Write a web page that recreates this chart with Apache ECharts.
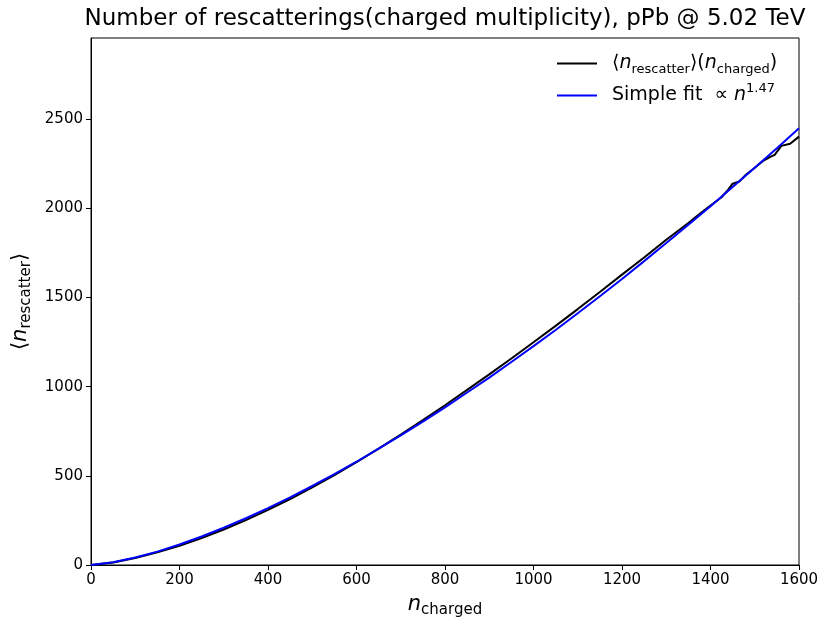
<!DOCTYPE html>
<html>
<head>
<meta charset="utf-8">
<script src="https://cdn.jsdelivr.net/npm/echarts@6/dist/echarts.min.js"></script>
<style>html,body{margin:0;padding:0;background:#fff}#c{width:830px;height:632px}</style>
</head>
<body>
<div id="c"></div>
<script>
// Measured curve <n_rescatter>(n_charged)
const nCharged = [0,50,100,150,200,250,300,350,400,450,500,550,600,650,700,750,800,850,900,950,1000,1050,1100,1150,1200,1250,1300,1350,1375,1400,1425,1440,1450,1465,1480,1500,1520,1535,1545,1560,1580,1600];
const nRescatter = [0,14,39,71,108,151,199,252,309,370,435,504,577,653,731,812,896,982,1069,1158,1249,1341,1435,1531,1628,1724,1824,1918,1968,2015,2062,2105,2138,2150,2188,2228,2268,2288,2300,2350,2362,2402];
// Simple fit curve
const nFit = [0,50,100,150,200,250,300,350,400,450,500,550,600,650,700,750,800,850,900,950,1000,1050,1100,1150,1200,1250,1300,1350,1400,1450,1500,1550,1600];
const fitVals = [0,15,42,75,115,160,209,262,319,379,443,510,579,652,727,804,884,967,1051,1138,1227,1318,1412,1507,1604,1704,1805,1908,2012,2119,2227,2337,2449];
const xTicks = [0,200,400,600,800,1000,1200,1400,1600];
const yTicks = [0,500,1000,1500,2000,2500];

const FONT = 'DejaVu Sans';
const chart = echarts.init(document.getElementById('c'), null, {renderer:'canvas'});
const sub = {fontFamily: FONT, fontSize: 13, lineHeight: 13, verticalAlign: 'bottom', color:'#000'};
const main = {fontFamily: FONT, fontSize: 19, lineHeight: 26, verticalAlign: 'middle', color:'#000'};
const it = Object.assign({}, main, {fontStyle:'italic'});
chart.setOption({
  animation: false,
  backgroundColor: '#fff',
  title: {
    text: 'Number of rescatterings(charged multiplicity), pPb @ 5.02 TeV',
    left: 445, top: 8, textAlign: 'center', padding: 0,
    textStyle: {fontFamily: FONT, fontSize: 23, fontWeight: 'normal', color: '#000'}
  },
  grid: {left: 91, right: 31, top: 38, bottom: 67, show: true, borderColor: '#000', borderWidth: 1, backgroundColor: 'transparent'},
  legend: {
    orient: 'vertical', left: 557, top: 54, itemGap: 6, padding: 0,
    itemWidth: 40, itemHeight: 2, icon: 'rect',
    data: ['black', 'fit'],
    formatter: function(name){
      if (name === 'black') return '{p|}{m|⟨}{i|n}{s|rescatter}{m|⟩(}{i|n}{s|charged}{m|)}';
      return '{p|}{m|Simple fit  ∝ }{i|n}{sup|1.47}';
    },
    textStyle: {
      fontFamily: FONT, fontSize: 19, color: '#000',
      rich: {
        p: {width: 10},
        m: main, i: it, s: sub,
        sup: {fontFamily: FONT, fontSize: 13, lineHeight: 13, verticalAlign: 'top', color:'#000'}
      }
    }
  },
  xAxis: {
    type: 'value', min: 0, max: 1600, interval: 200,
    name: '{i|n}{s|charged}', nameLocation: 'middle', nameGap: 27,
    nameTextStyle: {rich: {
      i: {fontFamily: FONT, fontSize: 21, fontStyle: 'italic', lineHeight: 26, verticalAlign: 'middle', color:'#000'},
      s: {fontFamily: FONT, fontSize: 15, lineHeight: 15, verticalAlign: 'bottom', color:'#000'}
    }},
    axisLine: {show: true, lineStyle: {color: '#000', width: 1}},
    axisTick: {show: true, inside: false, length: 5, lineStyle: {color: '#000'}},
    axisLabel: {fontFamily: FONT, fontSize: 15, color: '#000', margin: 8,
      formatter: function(v){ return xTicks.indexOf(v) >= 0 ? String(v) : ''; }},
    splitLine: {show: false}
  },
  yAxis: {
    type: 'value', min: 0, max: 2955, interval: 500,
    name: '{m|⟨}{i|n}{s|rescatter}{m|⟩}', nameLocation: 'middle', nameGap: 55,
    nameTextStyle: {rich: {
      m: {fontFamily: FONT, fontSize: 21, lineHeight: 26, verticalAlign: 'middle', color:'#000'},
      i: {fontFamily: FONT, fontSize: 21, fontStyle: 'italic', lineHeight: 26, verticalAlign: 'middle', color:'#000'},
      s: {fontFamily: FONT, fontSize: 15, lineHeight: 15, verticalAlign: 'bottom', color:'#000'}
    }},
    axisLine: {show: true, lineStyle: {color: '#000', width: 1}},
    axisTick: {show: true, inside: false, length: 5, lineStyle: {color: '#000'}},
    axisLabel: {fontFamily: FONT, fontSize: 15, color: '#000', margin: 8, showMaxLabel: false,
      formatter: function(v){ return yTicks.indexOf(v) >= 0 ? String(v) : ''; }},
    splitLine: {show: false}
  },
  series: [
    {name: 'black', type: 'line', showSymbol: false, symbol: 'none',
     data: nCharged.map((x,i)=>[x, nRescatter[i]]),
     lineStyle: {color: '#000', width: 2}, itemStyle: {color: '#000'}},
    {name: 'fit', type: 'line', showSymbol: false, symbol: 'none', smooth: false,
     data: nFit.map((x,i)=>[x, fitVals[i]]),
     lineStyle: {color: '#0000ff', width: 2}, itemStyle: {color: '#0000ff'}}
  ]
});
</script>
</body>
</html>
